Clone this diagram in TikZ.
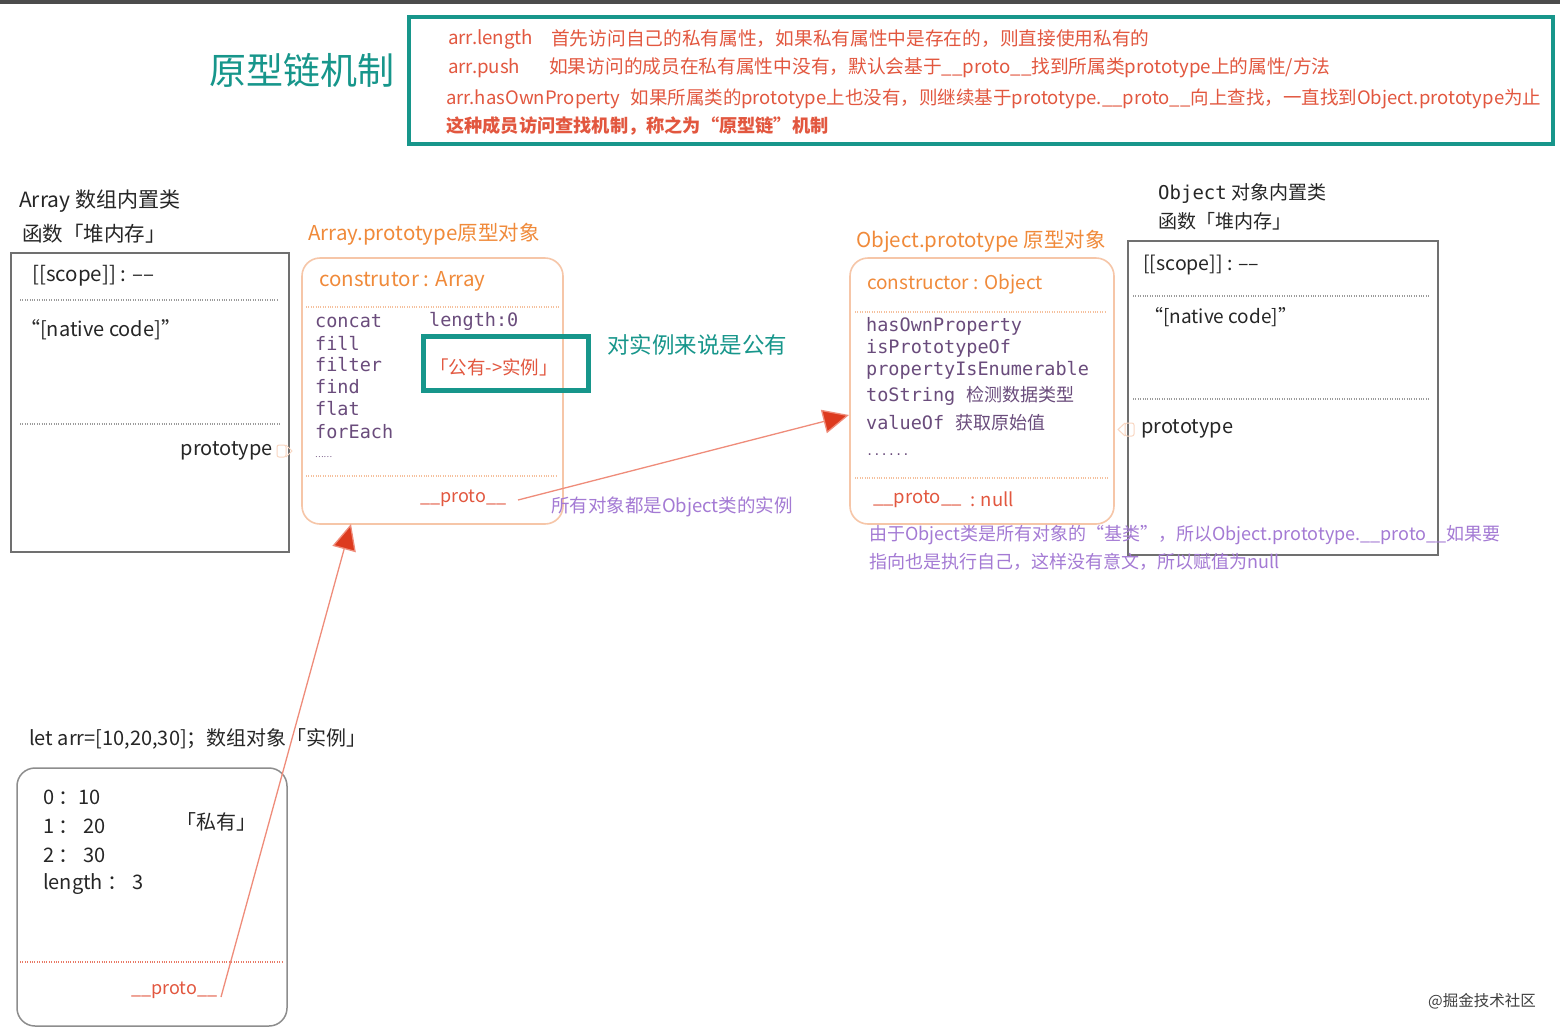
\documentclass[tikz,border=0pt]{standalone}
\usepackage{fontspec}
\setmainfont{Noto Sans CJK SC}
\newfontfamily\mono{DejaVu Sans Mono}
\usetikzlibrary{arrows.meta}
\definecolor{teal1}{HTML}{17968B}
\definecolor{redtxt}{HTML}{E2573F}
\definecolor{orgtxt}{HTML}{F08A3A}
\definecolor{orgline}{HTML}{F6C6A8}
\definecolor{purp}{HTML}{6A4C7C}
\definecolor{lpurp}{HTML}{A47AD4}
\definecolor{gline}{HTML}{707070}
\definecolor{arrred}{HTML}{DD3A1E}
\definecolor{arrline}{HTML}{EF8C7A}
\tikzset{
  t/.style={anchor=west, inner sep=0pt, text=black!85, font=\fontsize{20}{20}\selectfont},
  tr/.style={t, anchor=east},
  toptxt/.style={t, text=redtxt, font=\fontsize{18.7}{18.7}\selectfont},
  ttl/.style={t, text=orgtxt, font=\fontsize{20.5}{20.5}\selectfont},
  mt/.style={t, text=purp, font=\mono\fontsize{18.5}{18.5}\selectfont},
  note/.style={t, text=lpurp, font=\fontsize{18}{18}\selectfont},
  dotsline/.style={line width=1.2pt, dash pattern=on 1pt off 1.4pt, draw=gline!70},
  odotsline/.style={line width=1.2pt, dash pattern=on 1pt off 1.4pt, draw=orgline!90!orgtxt},
  clsbox/.style={draw=gline, line width=1.5pt},
  protobox/.style={draw=orgline, line width=1.6pt, rounded corners=18pt},
  instbox/.style={draw=gline!80, line width=1.5pt, rounded corners=18pt},
  tealbox/.style={draw=teal1, line width=4.5pt},
  chain/.style={draw=arrline, line width=1.3pt, -{Triangle[length=26pt,width=24pt,fill=arrred]}},
}
\begin{document}
\begin{tikzpicture}[x=1pt,y=-1pt]
\useasboundingbox (0,0) rectangle (1560,1029);
\fill[white] (0,0) rectangle (1560,1029);
\fill[black!70] (0,0) rectangle (1560,4);

% title and top explanation
\node[t, text=teal1, font=\fontsize{37}{37}\selectfont] (title) at (209,70) {原型链机制};
\draw[tealbox] (409,17) rectangle (1553,144);
\node[toptxt] (l1a) at (448,39) {arr.length};
\node[toptxt] (l1b) at (551,39) {首先访问自己的私有属性，如果私有属性中是存在的，则直接使用私有的};
\node[toptxt] (l2a) at (448,68) {arr.push};
\node[toptxt] (l2b) at (549,68) {如果访问的成员在私有属性中没有，默认会基于\_\_proto\_\_找到所属类prototype上的属性/方法};
\node[toptxt, font=\fontsize{18.5}{18.5}\selectfont] (l3) at (446,99) {arr.hasOwnProperty\hspace{10pt}如果所属类的prototype上也没有，则继续基于prototype.\_\_proto\_\_向上查找，一直找到Object.prototype为止};
\node[toptxt, font=\bfseries\fontsize{18.2}{18.2}\selectfont] (l4) at (446,126) {这种成员访问查找机制，称之为“原型链”机制};

% Array class box
\node[t, font=\fontsize{21}{21}\selectfont] (arrH1) at (19,201) {Array 数组内置类};
\node[t, font=\fontsize{20.5}{20.5}\selectfont] (arrH2) at (22,234) {函数「堆内存」};
\draw[clsbox] (11,253) rectangle (289,552);
\node[t, font=\fontsize{20.5}{20.5}\selectfont] (arrScope) at (32,276) {[[scope]] : \textendash\textendash};
\draw[dotsline] (20,300) -- (277,300);
\node[t, font=\fontsize{20}{20}\selectfont] (arrNative) at (20,330) {“[native code]”};
\draw[dotsline] (20,424) -- (280,424);
\node[tr, font=\fontsize{20}{20}\selectfont] (arrPt) at (273,451) {prototype};
\draw[orgline!70, line width=1pt, rounded corners=2pt] (277,445) rectangle (286,457);
\draw[orgline!70, line width=1pt] (286,445) -- (292,451) -- (286,457);

% Array.prototype box
\node[ttl] (apTitle) at (308,234) {Array.prototype原型对象};
\draw[protobox] (302,258) rectangle (563,524);
\node[ttl] (apCons) at (319,281) {construtor : Array};
\draw[odotsline] (306,307) -- (560,307);
\node[mt] (m1) at (315,321) {concat};
\node[mt] (m2) at (315,343) {fill};
\node[mt] (m3) at (315,365) {filter};
\node[mt] (m4) at (315,387) {find};
\node[mt] (m5) at (315,409) {flat};
\node[mt] (m6) at (315,432) {forEach};
\node[mt, font=\fontsize{8}{8}\selectfont] (m7) at (315,457) {……};
\node[mt] (mlen) at (429,321) {length:0};
\draw[tealbox, line width=5pt] (423,336) rectangle (588,390);
\node[t, text=redtxt, font=\fontsize{18.5}{18.5}\selectfont] (pub) at (430,367) {「公有->实例」};
\draw[odotsline] (306,476) -- (557,476);
\node[t, text=redtxt, font=\fontsize{18}{18}\selectfont] (apProto) at (420,498) {\_\_proto\_\_};
\node[t, text=teal1, font=\fontsize{22.5}{22.5}\selectfont] (pubNote) at (607,345) {对实例来说是公有};
\node[note, font=\fontsize{18.5}{18.5}\selectfont] (allObj) at (551,507) {所有对象都是Object类的实例};

% Object.prototype box
\node[ttl] (opTitle) at (856,241) {Object.prototype 原型对象};
\draw[protobox] (850,258) rectangle (1114,524);
\node[ttl, font=\fontsize{19}{19}\selectfont] (opCons) at (867,284) {constructor : Object};
\draw[odotsline] (855,312) -- (1105,312);
\node[mt] (o1) at (866,326) {hasOwnProperty};
\node[mt] (o2) at (866,348) {isPrototypeOf};
\node[mt] (o3) at (866,370) {propertyIsEnumerable};
\node[mt] (o4) at (866,396) {toString {\fontspec{Noto Sans CJK SC}\fontsize{18}{18}\selectfont 检测数据类型}};
\node[mt] (o5) at (866,423) {valueOf {\fontspec{Noto Sans CJK SC}\fontsize{18}{18}\selectfont 获取原始值}};
\node[mt, font=\mono\fontsize{12}{12}\selectfont] (o6) at (866,455) {......};
\draw[odotsline] (855,478) -- (1108,478);
\node[t, text=redtxt, font=\fontsize{18.5}{18.5}\selectfont] (opProto) at (873,499) {\_\_proto\_\_};
\node[t, text=redtxt, font=\fontsize{18.5}{18.5}\selectfont] (opNull) at (970,499) {: null};

% Object class box
\node[t, font=\fontsize{19}{19}\selectfont] (objH1) at (1158,193) {{\mono Object} 对象内置类};
\node[t, font=\fontsize{19}{19}\selectfont] (objH2) at (1158,221) {函数「堆内存」};
\draw[clsbox] (1128,241) rectangle (1438,555);
\node[t, font=\fontsize{19.5}{19.5}\selectfont] (objScope) at (1143,265) {[[scope]] : \textendash\textendash};
\draw[dotsline] (1133,296) -- (1430,296);
\node[t, font=\fontsize{19}{19}\selectfont] (objNative) at (1144,317) {“[native code]”};
\draw[dotsline] (1133,399) -- (1430,399);
\node[t, font=\fontsize{20}{20}\selectfont] (objPt) at (1141,429) {prototype};
\draw[orgline!70, line width=1pt, rounded corners=2pt] (1125,423) rectangle (1134,436);
\draw[orgline!70, line width=1pt] (1125,423) -- (1118,429.5) -- (1125,436);

\node[note] (n1) at (869,535) {由于Object类是所有对象的“基类”，所以Object.prototype.\_\_proto\_\_如果要};
\node[note] (n2) at (869,562) {指向也是执行自己，这样没有意文，所以赋值为null};

% instance box
\node[t] (instH) at (29,739) {let arr=[10,20,30]；数组对象「实例」};
\draw[instbox] (17,768) rectangle (287,1026);
\node[t] (i0) at (43,797) {0 ：10};
\node[t] (i1) at (43,826) {1 ：\ 20};
\node[t] (i2) at (43,855) {2 ：\ 30};
\node[t] (i3) at (43,884) {length ：\ 3};
\node[t] (priv) at (176,822) {「私有」};
\draw[line width=1.2pt, dash pattern=on 1pt off 1.4pt, draw=redtxt!80] (20,962) -- (283,962);
\node[t, text=redtxt, font=\fontsize{18}{18}\selectfont] (instProto) at (131,990) {\_\_proto\_\_};

% chain connectors
\coordinate (s1) at (221,997);
\coordinate (tip1) at (351,524);
\draw[chain] (s1) -- (tip1);
\coordinate (s2) at (518,500);
\coordinate (tip2) at (849,415);
\draw[chain] (s2) -- (tip2);

\node[t, text=black!75, font=\fontsize{15.5}{15.5}\selectfont] (wm) at (1428,1001) {@掘金技术社区};
\end{tikzpicture}
\end{document}
